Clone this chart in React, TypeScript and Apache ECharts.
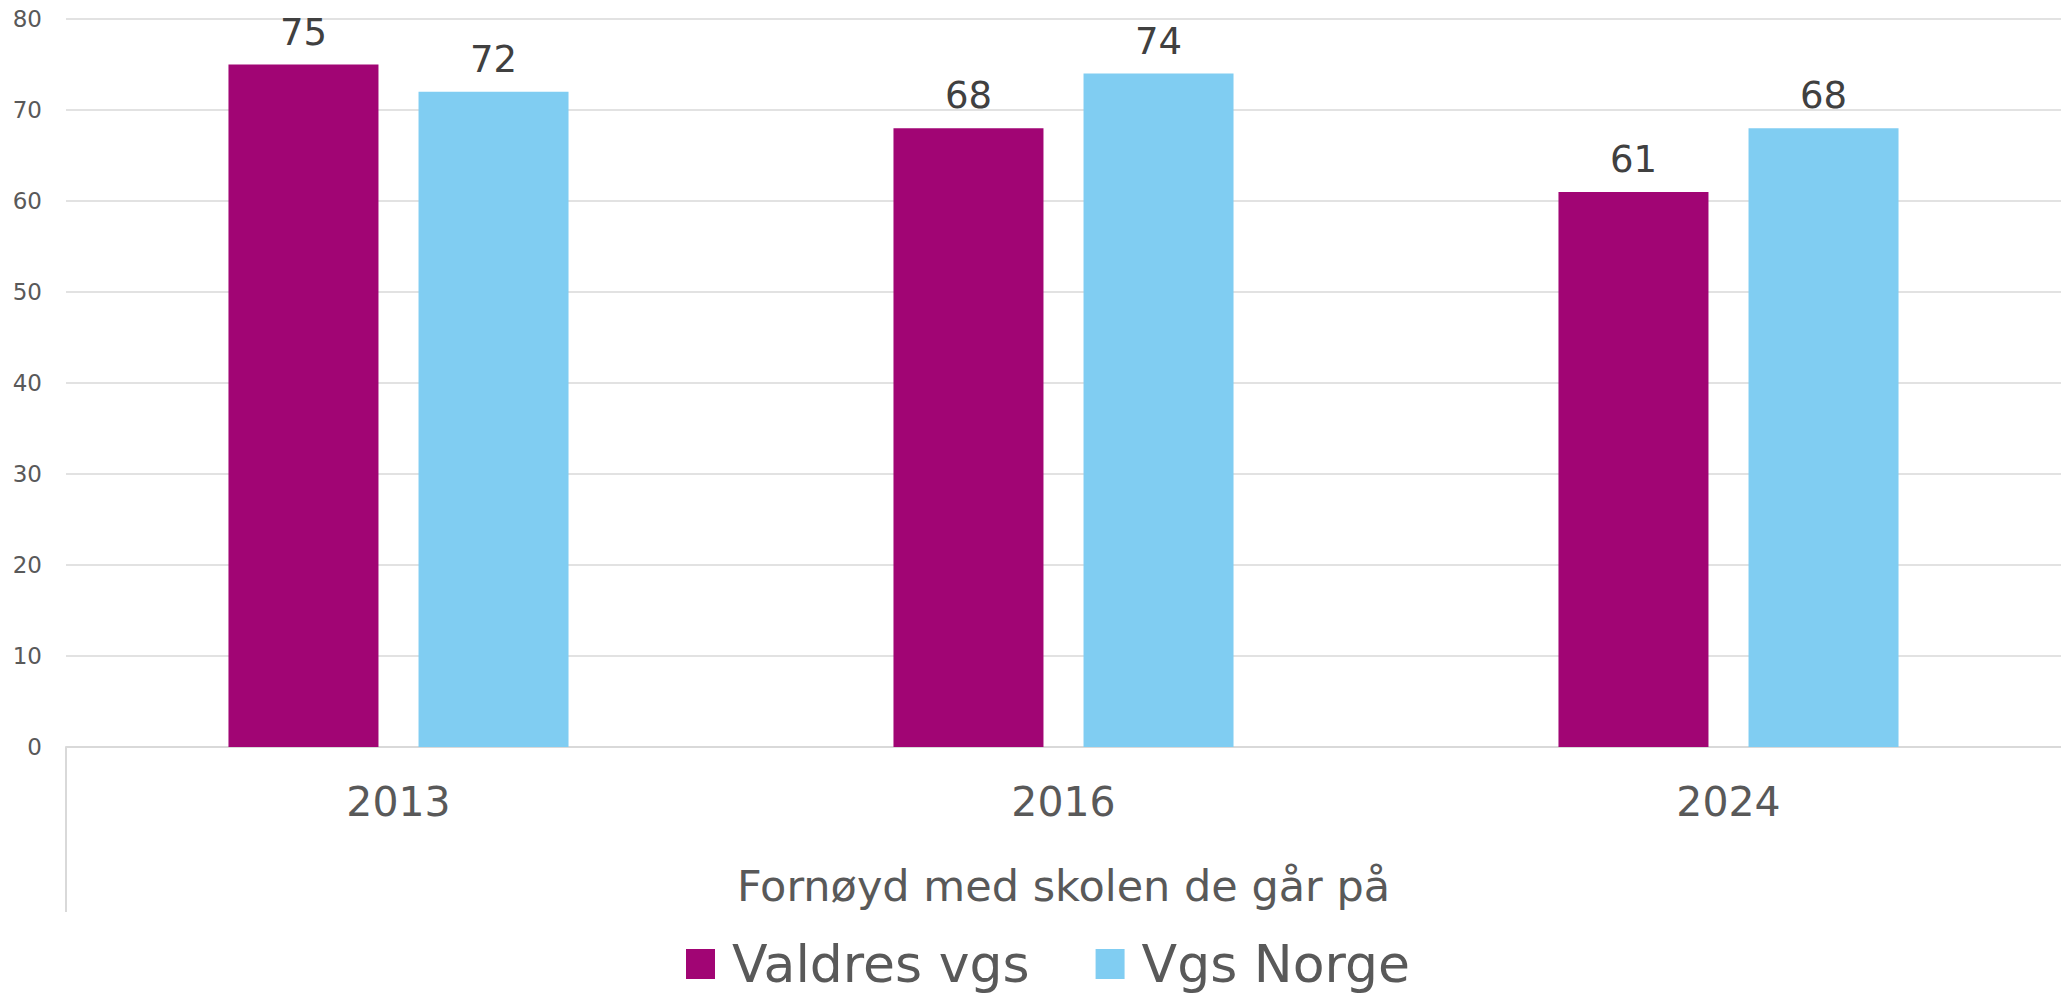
import React, { useEffect, useRef } from "react";
import * as echarts from "echarts";

const categories = ["2013", "2016", "2024"];
const valdres = [75, 68, 61];
const norge = [72, 74, 68];
const seriesNames = ["Valdres vgs", "Vgs Norge"];
const axisTitle = "Fornøyd med skolen de går på";

const FONT = "'DejaVu Sans', Verdana, sans-serif";

export default function App() {
  const ref = useRef<HTMLDivElement>(null);
  useEffect(() => {
    if (!ref.current) return;
    const chart = echarts.init(ref.current, null, { renderer: "svg" });
    chart.setOption({
      animation: false,
      backgroundColor: "#ffffff",
      textStyle: { fontFamily: FONT },
      grid: { left: 66, right: 0, top: 19, bottom: 251, containLabel: false },
      legend: {
        left: 686,
        top: 937,
        padding: 0,
        itemWidth: 29,
        itemHeight: 30,
        itemGap: 66,
        icon: "rect",
        textStyle: { fontFamily: FONT, fontSize: 52, lineHeight: 54, color: "#595959", padding: [0, 0, 0, 12] },
        data: seriesNames,
      },
      xAxis: {
        type: "category",
        data: categories,
        axisLine: { show: true, lineStyle: { color: "#d9d9d9", width: 2 } },
        axisTick: { show: false },
        axisLabel: { fontFamily: FONT, fontSize: 41, color: "#595959", margin: 34 },
        name: axisTitle,
        nameLocation: "middle",
        nameGap: 117,
        nameTextStyle: { fontFamily: FONT, fontSize: 43, color: "#595959" },
      },
      yAxis: {
        type: "value",
        min: 0,
        max: 80,
        interval: 10,
        axisLine: { show: false },
        axisTick: { show: false },
        axisLabel: { fontFamily: FONT, fontSize: 23, color: "#595959", margin: 24 },
        splitLine: { lineStyle: { color: "#d9d9d9", width: 1.5 } },
      },
      graphic: [
        {
          type: "line",
          shape: { x1: 66, y1: 747, x2: 66, y2: 912 },
          style: { stroke: "#d9d9d9", lineWidth: 2 },
        },
      ],
      series: [
        {
          name: seriesNames[0],
          type: "bar",
          data: valdres,
          barWidth: 150,
          barGap: "26.7%",
          itemStyle: { color: "#A10574" },
          label: { show: true, position: "top", distance: 14, fontFamily: FONT, fontSize: 37, color: "#404040" },
        },
        {
          name: seriesNames[1],
          type: "bar",
          data: norge,
          barWidth: 150,
          barGap: "26.7%",
          itemStyle: { color: "#80CDF2" },
          label: { show: true, position: "top", distance: 14, fontFamily: FONT, fontSize: 37, color: "#404040" },
        },
      ],
    });
    return () => chart.dispose();
  }, []);
  return (
    <div
      ref={ref}
      style={{ position: "absolute", left: 0, top: 0, width: 2061, height: 998 }}
    />
  );
}
